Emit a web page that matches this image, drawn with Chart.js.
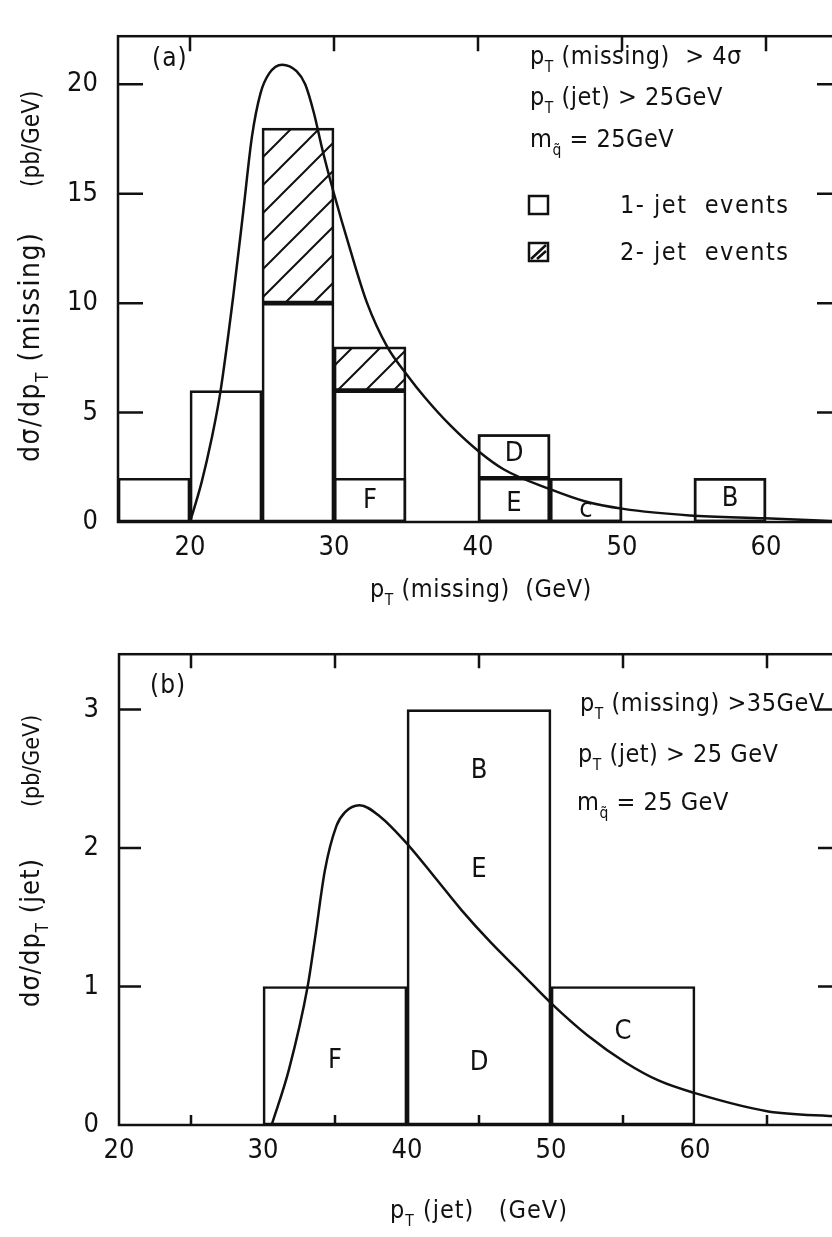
<!DOCTYPE html>
<html>
<head>
<meta charset="utf-8">
<script src="https://cdn.jsdelivr.net/npm/chart.js@4/dist/chart.umd.min.js"></script>
<style>
  html, body { margin: 0; padding: 0; background: #fff; overflow: hidden; width: 832px; height: 1237px; }
  canvas { position: absolute; left: 0; }
  #ca { top: 0; }
  #cb { top: 618px; }
</style>
</head>
<body>
<canvas id="ca" width="860" height="618" style="width:860px;height:618px"></canvas>
<canvas id="cb" width="860" height="619" style="width:860px;height:619px"></canvas>
<script>
// ================= DATA =================
// Panel (a): d sigma / d pT(missing)
const binLowA = [15, 20, 25, 30, 40, 45, 55];        // lower edges of filled bins (GeV)
const binWidthA = 5;
const oneJetA = [2, 6, 10, 6, 4, 2, 2];               // 1-jet events (pb/GeV)
const twoJetLowA = [25, 30];
const twoJetA = [8, 2];                               // 2-jet events, stacked on top of 1-jet
const eventLowA = [30, 40, 40, 45, 55];               // single labelled events (bin lower edge)
const eventFromA = [0, 0, 2, 0, 0];
const eventToA = [2, 2, 4, 2, 2];
const eventNamesA = ['F', 'E', 'D', 'c', 'B'];
const eventNameYA = [0.95, 0.82, 3.1, 0.55, 1.04];
const curveXA = [20, 20.8, 21.5, 22.1, 23.0, 23.7, 24.3, 24.9, 25.5, 26.4, 27.4, 28.0, 28.6, 29.2, 30.0, 31.1, 32.3, 33.7, 35.1, 36.3, 38.1, 40.1, 41.8, 45.0, 47.4, 50.1, 54.7, 59.9, 65];
const curveYA = [0, 1.8, 3.8, 5.9, 10.3, 14.2, 17.6, 19.6, 20.5, 20.9, 20.6, 20.0, 18.7, 17.0, 15.0, 12.5, 10.0, 8.0, 6.7, 5.7, 4.4, 3.2, 2.4, 1.5, 0.95, 0.6, 0.3, 0.17, 0.03];
const xTicksA = [20, 30, 40, 50, 60];
const yTicksA = [0, 5, 10, 15, 20];

// Panel (b): d sigma / d pT(jet)
const binLowB = [30, 40, 50];
const binWidthB = 10;
const jetB = [1, 3, 1];
const eventNamesB = ['F', 'D', 'E', 'B', 'C'];
const eventXB = [35, 45, 45, 45, 55];
const eventYB = [0.46, 0.45, 1.84, 2.56, 0.67];
const curveXB = [30.6, 31.8, 33.1, 33.6, 34.3, 35.1, 35.7, 36.7, 38.1, 40.1, 42.0, 43.8, 45.8, 48.0, 50.0, 52.5, 55.2, 57.5, 60.0, 65.0, 70];
const curveYB = [0, 0.40, 1.0, 1.34, 1.84, 2.16, 2.26, 2.31, 2.23, 2.02, 1.78, 1.55, 1.32, 1.09, 0.88, 0.65, 0.45, 0.32, 0.23, 0.10, 0.06];
const xTicksB = [20, 30, 40, 50, 60];
const xMinorB = [25, 35, 45, 55, 65];
const yTicksB = [0, 1, 2, 3];

// ================= STYLE =================
const INK = '#111';
const TEXT_FONT = '"DejaVu Sans Condensed", "Liberation Sans Narrow", "Liberation Sans", sans-serif';
const TICK_FONT = TEXT_FONT;

function hatchPattern() {
  const s = 28;
  const c = document.createElement('canvas');
  c.width = s; c.height = s;
  const g = c.getContext('2d');
  g.strokeStyle = INK; g.lineWidth = 2;
  g.beginPath();
  g.moveTo(0, s); g.lineTo(s, 0);
  g.moveTo(-2, 2); g.lineTo(2, -2);
  g.moveTo(s - 2, s + 2); g.lineTo(s + 2, s - 2);
  g.stroke();
  return g.createPattern(c, 'repeat');
}

function drawRich(ctx, t) {
  const size = t.size || 25;
  ctx.save();
  ctx.translate(t.x, t.y);
  if (t.rot) ctx.rotate(t.rot);
  ctx.textBaseline = 'alphabetic';
  ctx.textAlign = 'left';
  ctx.fillStyle = INK;
  try { ctx.letterSpacing = (t.ls === undefined ? 0.5 : t.ls) + 'px'; } catch (e) {}
  let cx = 0;
  for (const p of t.parts) {
    const sub = Array.isArray(p);
    const txt = sub ? p[0] : p;
    const fs = sub ? size * 0.62 : size;
    ctx.font = fs + 'px ' + TEXT_FONT;
    ctx.fillText(txt, cx, sub ? size * 0.32 : 0);
    cx += ctx.measureText(txt).width;
  }
  ctx.restore();
}

const deco = {
  id: 'deco',
  afterDatasetsDraw(chart, args, o) {
    const { ctx, chartArea: a, scales: { x, y } } = chart;
    ctx.save();
    ctx.strokeStyle = INK;
    ctx.lineWidth = 2.5;
    ctx.strokeRect(a.left, a.top, a.right - a.left, a.bottom - a.top);
    ctx.beginPath();
    o.sideTicks.forEach(v => {
      const py = y.getPixelForValue(v);
      ctx.moveTo(a.left, py); ctx.lineTo(a.left + o.leftLen, py);
      ctx.moveTo(a.right, py); ctx.lineTo(a.right - o.rightLen, py);
    });
    o.topTicks.forEach(v => {
      const px = x.getPixelForValue(v);
      ctx.moveTo(px, a.top); ctx.lineTo(px, a.top + o.topLen);
    });
    o.bottomTicks.forEach(v => {
      const px = x.getPixelForValue(v);
      ctx.moveTo(px, a.bottom); ctx.lineTo(px, a.bottom - o.bottomLen);
    });
    ctx.stroke();
    // event letters
    ctx.fillStyle = INK;
    ctx.textAlign = 'center';
    ctx.textBaseline = 'middle';
    ctx.font = '27px ' + TEXT_FONT;
    o.letters.forEach(l => ctx.fillText(l.t, x.getPixelForValue(l.x), y.getPixelForValue(l.y)));
    // texts
    o.texts.forEach(t => drawRich(ctx, t));
    if (o.legend) {
      ctx.lineWidth = 2.5;
      ctx.strokeRect(529, 196, 19, 18);
      ctx.strokeRect(529, 243, 19, 18);
      ctx.beginPath();
      ctx.moveTo(531, 259); ctx.lineTo(546, 245);
      ctx.moveTo(537, 259); ctx.lineTo(546, 251);
      ctx.stroke();
    }
    ctx.restore();
  }
};

function ticksFrom(arr) {
  return scale => { scale.ticks = arr.map(v => ({ value: v })); };
}

function baseOptions(p) {
  return {
    responsive: false,
    animation: false,
    events: [],
    layout: { padding: p.padding },
    plugins: { legend: { display: false }, tooltip: { enabled: false }, deco: p.deco },
    scales: {
      x: {
        type: 'linear', min: p.xmin, max: p.xmax, offset: false,
        afterBuildTicks: ticksFrom(p.xTicks),
        afterFit: s => { s.height = p.xh; },
        grid: { display: false, drawTicks: false }, border: { display: false },
        ticks: { padding: 10, color: INK, font: { family: TICK_FONT, size: 27 }, maxRotation: 0, autoSkip: false }
      },
      y: {
        type: 'linear', min: 0, max: p.ymax,
        afterBuildTicks: ticksFrom(p.yTicks),
        afterFit: s => { s.width = p.yw; },
        grid: { display: false, drawTicks: false }, border: { display: false },
        ticks: { padding: 20, color: INK, font: { family: TICK_FONT, size: 27 } }
      }
    }
  };
}

const barStyle = {
  type: 'bar', grouped: false, borderSkipped: false, borderWidth: 2,
  borderColor: INK, backgroundColor: 'rgba(0,0,0,0)',
  categoryPercentage: 1, barPercentage: 1, order: 2
};
const lineStyle = {
  type: 'line', borderColor: INK, borderWidth: 2.5, pointRadius: 0,
  cubicInterpolationMode: 'monotone', fill: false, order: 0
};

// ================= PANEL (a) =================
const hatch = hatchPattern();
const dsA = [
  Object.assign({}, barStyle, {
    label: '1-jet events',
    data: binLowA.map((lo, i) => ({ x: lo + binWidthA / 2, y: [0, oneJetA[i]] }))
  }),
  Object.assign({}, barStyle, {
    label: 'events',
    data: eventLowA.map((lo, i) => ({ x: lo + binWidthA / 2, y: [eventFromA[i], eventToA[i]] }))
  }),
  Object.assign({}, barStyle, {
    label: '2-jet events', backgroundColor: hatch,
    data: twoJetLowA.map((lo, i) => {
      const base = oneJetA[binLowA.indexOf(lo)];
      return { x: lo + binWidthA / 2, y: [base, base + twoJetA[i]] };
    })
  }),
  Object.assign({}, lineStyle, {
    label: 'prediction',
    data: curveXA.map((v, i) => ({ x: v, y: curveYA[i] }))
  })
];

new Chart(document.getElementById('ca'), {
  type: 'bar',
  data: { datasets: dsA },
  options: baseOptions({
    padding: { left: 0, top: 10, right: 22, bottom: 0 },
    xmin: 15, xmax: 65, ymax: 22.2, xh: 96, yw: 118,
    xTicks: xTicksA, yTicks: yTicksA,
    deco: {
      sideTicks: yTicksA.slice(1), leftLen: 25, rightLen: 21,
      topTicks: xTicksA, topLen: 15, bottomTicks: [], bottomLen: 10,
      letters: eventNamesA.map((t, i) => ({ t, x: eventLowA[i] + binWidthA / 2, y: eventNameYA[i] })),
      legend: true,
      texts: [
        { x: 152, y: 66, parts: ['(a)'], size: 26, ls: 1 },
        { x: 530, y: 64, parts: ['p', ['T'], ' (missing)  > 4σ'] },
        { x: 530, y: 105, parts: ['p', ['T'], ' (jet) > 25GeV'] },
        { x: 530, y: 147, parts: ['m', ['q\u0303'], ' = 25GeV'] },
        { x: 620, y: 213, parts: ['1- jet  events'], ls: 1.5 },
        { x: 620, y: 260, parts: ['2- jet  events'], ls: 1.5 },
        { x: 370, y: 597, parts: ['p', ['T'], ' (missing)  (GeV)'] },
        { x: 39, y: 462, rot: -Math.PI / 2, parts: ['dσ/dp', ['T'], ' (missing)'], size: 28, ls: 1.5 },
        { x: 39, y: 187, rot: -Math.PI / 2, parts: ['(pb/GeV)'], size: 24, ls: 0 }
      ]
    }
  }),
  plugins: [deco]
});

// ================= PANEL (b) =================
const dsB = [
  Object.assign({}, barStyle, {
    label: 'events',
    data: binLowB.map((lo, i) => ({ x: lo + binWidthB / 2, y: [0, jetB[i]] }))
  }),
  Object.assign({}, lineStyle, {
    label: 'prediction',
    data: curveXB.map((v, i) => ({ x: v, y: curveYB[i] }))
  })
];

new Chart(document.getElementById('cb'), {
  type: 'bar',
  data: { datasets: dsB },
  options: baseOptions({
    padding: { left: 0, top: 11, right: 21, bottom: 0 },
    xmin: 20, xmax: 70, ymax: 3.4, xh: 112, yw: 119,
    xTicks: xTicksB, yTicks: yTicksB,
    deco: {
      sideTicks: yTicksB.slice(1), leftLen: 22, rightLen: 21,
      topTicks: xMinorB, topLen: 14, bottomTicks: xMinorB, bottomLen: 10,
      letters: eventNamesB.map((t, i) => ({ t, x: eventXB[i], y: eventYB[i] })),
      legend: false,
      texts: [
        { x: 150, y: 75, parts: ['(b)'], size: 26, ls: 1 },
        { x: 580, y: 93, parts: ['p', ['T'], ' (missing) >35GeV'] },
        { x: 578, y: 144, parts: ['p', ['T'], ' (jet) > 25 GeV'] },
        { x: 577, y: 192, parts: ['m', ['q\u0303'], ' = 25 GeV'] },
        { x: 390, y: 600, parts: ['p', ['T'], ' (jet)   (GeV)'], ls: 1 },
        { x: 39, y: 389, rot: -Math.PI / 2, parts: ['dσ/dp', ['T'], ' (jet)'], size: 27, ls: 1 },
        { x: 39, y: 189, rot: -Math.PI / 2, parts: ['(pb/GeV)'], size: 23, ls: 0 }
      ]
    }
  }),
  plugins: [deco]
});
</script>
</body>
</html>
